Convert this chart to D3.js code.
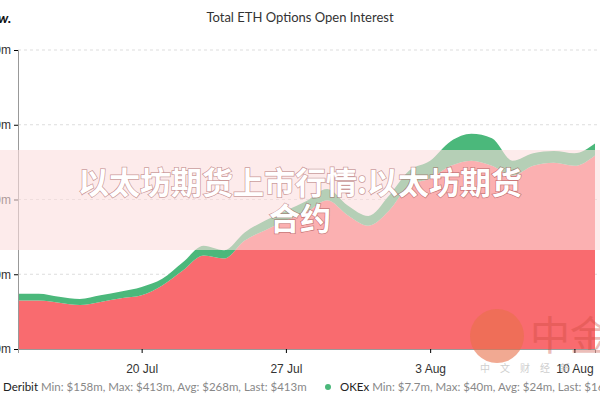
<!DOCTYPE html>
<html>
<head>
<meta charset="utf-8">
<script src="https://cdn.jsdelivr.net/npm/d3@7"></script>
<style>
body{margin:0;background:#fff;}
svg{font-family:Lato,"Open Sans",sans-serif;}
</style>
</head>
<body>
<div id="chart"></div>
<script>
// values in $m
let dates = ["2020-07-14","2020-07-15","2020-07-16","2020-07-17","2020-07-18","2020-07-19","2020-07-20",
  "2020-07-21","2020-07-22","2020-07-23","2020-07-24","2020-07-25","2020-07-26","2020-07-27",
  "2020-07-28","2020-07-29","2020-07-30","2020-07-31","2020-08-01","2020-08-02","2020-08-03",
  "2020-08-04","2020-08-05","2020-08-06","2020-08-07","2020-08-08","2020-08-09","2020-08-10","2020-08-11"];
let deribit = [165,165,162,159,163,168,172,185,205,225,221,245,259,272,283,299,279,265,285,319,328,345,352,345,332,345,349,345,359];
let okex = [9,9,8,8,9,9,11,9,11,13,11,11,13,13,15,15,13,13,20,20,24,33,36,37,20,17,16,17,16];
let yTicks = [100,200,300,400,500];
let xTicks = ["2020-07-20","2020-07-27","2020-08-03","2020-08-10"];

let w = 600, h = 400;
let parse = d3.timeParse("%Y-%m-%d");
let rows = dates.map(function(d,i){ return {date: parse(d), deribit: deribit[i], okex: okex[i]}; });

let svg = d3.select("#chart").append("svg").attr("width", w).attr("height", h);

let xScale = d3.scaleTime().domain([parse("2020-07-14"), parse("2020-08-11")]).range([18, 595]);
let yScale = d3.scaleLinear().domain([100,500]).range([349,50]);

// grid
svg.selectAll(".grid").data(yTicks).enter().append("line")
  .attr("x1", 18).attr("x2", w)
  .attr("y1", d => yScale(d)).attr("y2", d => yScale(d))
  .attr("stroke", "#ddd").attr("stroke-dasharray", "3,3");

let stack = d3.stack().keys(["deribit","okex"])(rows);
let colors = ["#f96b6f","#4bb87b"];
let area = d3.area().curve(d3.curveMonotoneX)
  .x(d => xScale(d.data.date)).y0(d => yScale(d[0])).y1(d => yScale(d[1]));
let areaBase = d3.area().curve(d3.curveMonotoneX)
  .x(d => xScale(d.data.date)).y0(yScale(100)).y1(d => yScale(d[1]));
svg.selectAll(".layer").data(stack).enter().append("path")
  .attr("d", (d,i) => i == 0 ? areaBase(d) : area(d))
  .attr("fill", (d,i) => colors[i]);

// axes (labels run off the left edge like the reference)
let yAxis = d3.axisLeft(yScale).tickValues(yTicks).tickFormat(d => "$" + d + "m").tickSize(4);
svg.append("g").attr("transform","translate(18,0)").call(yAxis)
  .call(g => g.selectAll("text").attr("font-size", 12).attr("fill","#333"))
  .call(g => g.select(".domain").attr("stroke","#999"));
let xAxis = d3.axisBottom(xScale).tickValues(xTicks.map(parse)).tickFormat(d3.timeFormat("%-d %b")).tickSize(4);
svg.append("g").attr("transform","translate(0,349)").call(xAxis)
  .call(g => g.selectAll("text").attr("font-size", 12).attr("fill","#333").attr("dy","1.4em"))
  .call(g => g.select(".domain").attr("stroke","#999"));

svg.append("text").attr("x", 300).attr("y", 22).attr("text-anchor","middle")
  .attr("font-size", 13).attr("fill","#333").text("Total ETH Options Open Interest");
svg.append("text").attr("x", -2).attr("y", 23).attr("font-size", 14).attr("font-weight","bold")
  .attr("font-style","italic").attr("fill","#111").text("w.");

// legend
let leg = svg.append("text").attr("x", 3).attr("y", 391).attr("font-size", 11.5).attr("fill","#888");
leg.append("tspan").attr("fill","#222").text("Deribit");
leg.append("tspan").text(" Min: $158m, Max: $413m, Avg: $268m, Last: $413m");
svg.append("circle").attr("cx", 328).attr("cy", 387).attr("r", 3).attr("fill", colors[1]);
let leg2 = svg.append("text").attr("x", 340).attr("y", 391).attr("font-size", 11.5).attr("fill","#888");
leg2.append("tspan").attr("fill","#222").text("OKEx");
leg2.append("tspan").text(" Min: $7.7m, Max: $40m, Avg: $24m, Last: $16m");

// watermark
svg.append("circle").attr("cx", 497).attr("cy", 336).attr("r", 27).attr("fill","#e8704a").attr("opacity",0.6);
svg.append("text").attr("x", 530).attr("y", 350).attr("font-size", 40).attr("fill","#c9483a").attr("opacity",0.35)
  .attr("font-family","Noto Sans CJK SC").text("中金");
svg.append("text").attr("x", 480).attr("y", 372).attr("font-size", 10).attr("fill","#bbb").attr("opacity",0.7)
  .attr("font-family","Noto Sans CJK SC").attr("letter-spacing", 10).text("中文财经新");

// overlay band with title
svg.append("rect").attr("x",0).attr("y",150).attr("width",w).attr("height",100).attr("fill","rgba(252,222,222,0.6)");
let titleLines = ["以太坊期货上市行情:以太坊期货","合约"];
svg.selectAll(".ov").data(titleLines).enter().append("text")
  .attr("x", 300).attr("y", (d,i) => 194 + i*36).attr("text-anchor","middle")
  .attr("font-family","Noto Sans CJK SC").attr("font-weight","bold").attr("font-size", 31)
  .attr("fill","#fff").attr("stroke","rgba(140,50,50,0.45)").attr("stroke-width",1.5)
  .style("paint-order","stroke")
  .text(d => d);
</script>
</body>
</html>
